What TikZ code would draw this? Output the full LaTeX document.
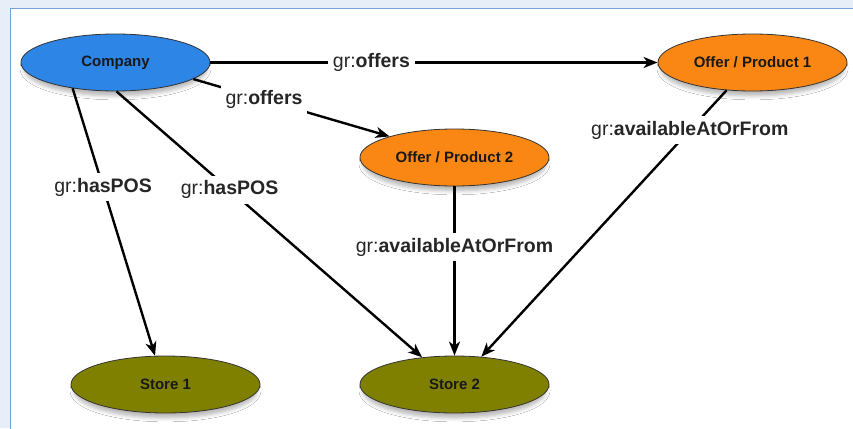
\documentclass[tikz,border=0pt]{standalone}
\usepackage{fontspec}
\setmainfont{Liberation Sans}
\usetikzlibrary{arrows.meta,shapes.geometric,shadows.blur}

\definecolor{companyblue}{RGB}{45,133,230}
\definecolor{offerorange}{RGB}{250,135,20}
\definecolor{storeolive}{RGB}{128,128,0}
\definecolor{panelbg}{RGB}{231,238,247}
\definecolor{panelline}{RGB}{120,160,215}

\begin{document}
\begin{tikzpicture}[
  x=1pt, y=-1pt,
  line/.style={draw, -{Stealth[length=14pt,width=11pt,inset=4pt]}, line width=2.4pt},
  entity/.style={ellipse, draw=black!80, line width=0.8pt, inner sep=0pt,
              minimum width=189pt, minimum height=57pt, text=black!90,
              font=\fontsize{15}{18}\selectfont\bfseries,
              blur shadow={shadow xshift=0pt, shadow yshift=-6pt, shadow scale=0.97,
                           shadow blur radius=4pt, shadow opacity=28}},
  rel/.style={fill=white, inner sep=5pt, text=black!85,
              font=\fontsize{19.5}{23}\selectfont}
]
\useasboundingbox (0,0) rectangle (853,428);

% =======================================================
%                     PANEL
% =======================================================
\fill[panelbg] (0,0) rectangle (853,428);
\draw[panelline, fill=white, line width=1pt] (10,9) rectangle (860,436);

% =======================================================
%                     NODES
% =======================================================
\node[entity, fill=companyblue] (company) at (115.5,62.5) {Company};
\node[entity, fill=offerorange] (offer1) at (752.5,62.5) {Offer / Product 1};
\node[entity, fill=offerorange] (offer2) at (454.5,157.5) {Offer / Product 2};
\node[entity, fill=storeolive] (store1) at (165.5,384.5) {Store 1};
\node[entity, fill=storeolive] (store2) at (454.5,384.5) {Store 2};

% =======================================================
%                     CONNECTIONS
% =======================================================

% Company -> offers
\draw[line] (company.east) --
  node[rel, pos=0.36] {gr:\textbf{offers}}
(offer1.west);
\draw[line] (company.348) --
  node[rel, pos=0.36] {gr:\textbf{offers}}
(offer2.162);

% Company -> points of sale
\draw[line] (company.211) --
  node[rel, pos=0.37] {gr:\textbf{hasPOS}}
(store1.110);
\draw[line] (company.272) --
  node[rel, pos=0.37] {gr:\textbf{hasPOS}}
(store2.140);

% Offers -> Store 2
\draw[line] (offer2.south) --
  node[rel, pos=0.36] {gr:\textbf{availableAtOrFrom}}
(store2.north);
\draw[line] (offer1.227) --
  node[rel, pos=0.15] {gr:\textbf{availableAtOrFrom}}
(store2.46);

\end{tikzpicture}
\end{document}
